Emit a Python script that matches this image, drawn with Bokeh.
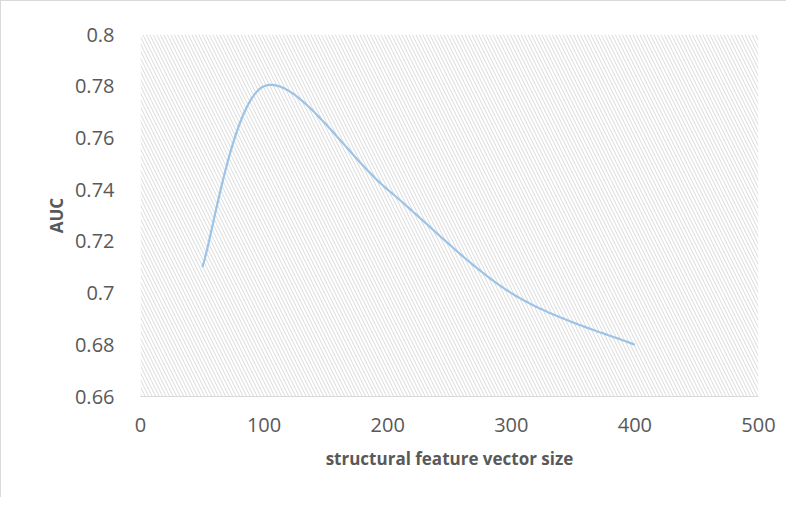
import numpy as np
from bokeh.plotting import figure
from bokeh.models import FixedTicker, BoxAnnotation, Range1d
from bokeh.embed import file_html
from bokeh.resources import INLINE

# data
sizes = [50, 100, 200, 300, 400]
auc = [0.71, 0.78, 0.74, 0.70, 0.68]

x_ticks = [0, 100, 200, 300, 400, 500]
y_ticks = [0.66, 0.68, 0.70, 0.72, 0.74, 0.76, 0.78, 0.80]
y_labels = ["0.66", "0.68", "0.7", "0.72", "0.74", "0.76", "0.78", "0.8"]

# Excel-like smoothing (Catmull-Rom style Bezier) computed from the data
def smooth(xs, ys, n=40):
    P = np.column_stack([xs, ys]).astype(float)
    out = []
    m = len(P)
    for i in range(m - 1):
        p0 = P[max(i - 1, 0)]
        p1 = P[i]
        p2 = P[i + 1]
        p3 = P[min(i + 2, m - 1)]
        c1 = p1 + (p2 - p0) / 6.0
        c2 = p2 - (p3 - p1) / 6.0
        t = np.linspace(0, 1, n)[:, None]
        seg = ((1 - t) ** 3) * p1 + 3 * ((1 - t) ** 2) * t * c1 + 3 * (1 - t) * t ** 2 * c2 + t ** 3 * p2
        if i > 0:
            seg = seg[1:]
        out.append(seg)
    a = np.vstack(out)
    return a[:, 0], a[:, 1]

sx, sy = smooth(sizes, auc)

FONT = "Open Sans"
GREY = "#595959"

p = figure(width=786, height=497, output_backend="svg", toolbar_location=None,
           x_range=Range1d(0, 500), y_range=Range1d(0.66, 0.80),
           min_border_left=139, min_border_right=29, min_border_top=33, min_border_bottom=102)
p.styles = {"border-left": "1px solid #d9d9d9", "border-top": "1px solid #d9d9d9"}

p.background_fill_color = "white"
p.border_fill_color = "white"
p.outline_line_color = None
p.xgrid.grid_line_color = None
p.ygrid.grid_line_color = None

hatch = BoxAnnotation(fill_alpha=0, line_color=None, hatch_pattern="\\",
                      hatch_color="#dadada", hatch_scale=7, hatch_weight=1, level="underlay")
p.add_layout(hatch)

p.line(sx, sy, line_color="#9DC3E6", line_width=2.2)

p.xaxis.ticker = FixedTicker(ticks=x_ticks)
p.yaxis.ticker = FixedTicker(ticks=y_ticks)
p.yaxis.major_label_overrides = {t: l for t, l in zip(y_ticks, y_labels)}

for ax in (p.xaxis[0], p.yaxis[0]):
    ax.major_tick_line_color = None
    ax.minor_tick_line_color = None
    ax.major_label_text_font = FONT
    ax.major_label_text_font_size = "20px"
    ax.major_label_text_color = GREY
    ax.axis_label_text_font = FONT
    ax.axis_label_text_font_size = "17px"
    ax.axis_label_text_font_style = "bold"
    ax.axis_label_text_color = GREY

p.xaxis.axis_line_color = "#d9d9d9"
p.yaxis.axis_line_color = None
p.xaxis.axis_label = "structural feature vector size"
p.yaxis.axis_label = "AUC"
p.xaxis.major_label_standoff = 15
p.yaxis.major_label_standoff = 20
p.xaxis.axis_label_standoff = 12
p.yaxis.axis_label_standoff = 4

open("out.html", "w").write(file_html(p, INLINE))
